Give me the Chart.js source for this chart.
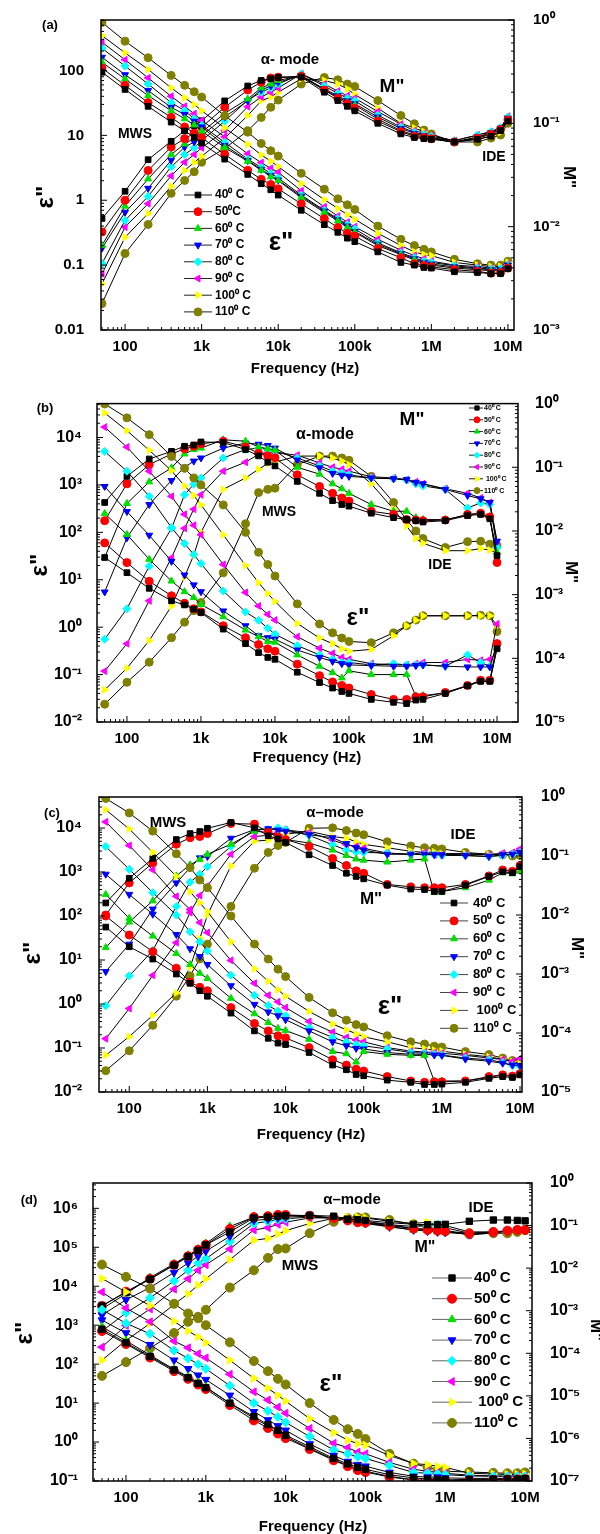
<!DOCTYPE html>
<html><head><meta charset="utf-8">
<script src="https://cdn.jsdelivr.net/npm/chart.js@4.4.1/dist/chart.umd.min.js"></script>
<style>
html,body{margin:0;padding:0;background:#fff;}
body{width:600px;height:1534px;position:relative;overflow:hidden;}
canvas{position:absolute;left:0;}
</style></head><body>
<canvas id="ca" width="600" height="385" style="top:0px"></canvas>
<canvas id="cb" width="600" height="385" style="top:385px"></canvas>
<canvas id="cc" width="600" height="380" style="top:770px"></canvas>
<canvas id="cd" width="600" height="384" style="top:1150px"></canvas>
<script>
// ---------------- data ----------------
const FREQ = [50,100,200,400,600,800,1e3,2e3,4e3,6e3,8e3,1e4,2e4,4e4,6e4,8e4,1e5,2e5,4e5,6e5,8e5,1e6,2e6,4e6,6e6,8e6,1e7];
const TEMPS = ['40\u2070 C','50\u2070C','60\u2070 C','70\u2070 C','80\u2070 C','90\u2070 C','100\u2070 C','110\u2070 C'];
const TEMPS_CD = ['40\u2070 C','50\u2070 C','60\u2070 C','70\u2070 C','80\u2070 C','90\u2070 C',' 100\u2070 C','110\u2070 C'];

const X_TICKS = [1e2,1e3,1e4,1e5,1e6,1e7];
const X_LABELS = ['100','1k','10k','100k','1M','10M'];
const A_Y_TICKS = [0.01,0.1,1,10,100];
const A_Y_LABELS = ['0.01','0.1','1','10','100'];
const A_Y1_TICKS = [1e-3,1e-2,1e-1,1];
const A_Y1_LABELS = ['10\u207B\u00B3','10\u207B\u00B2','10\u207B\u00B9','10\u2070'];
const BC_Y_TICKS = [1e-2,1e-1,1,10,100,1e3,1e4];
const BC_Y_LABELS = ['10\u207B\u00B2','10\u207B\u00B9','10\u2070','10\u00B9','10\u00B2','10\u00B3','10\u2074'];
const BC_Y1_TICKS = [1e-5,1e-4,1e-3,1e-2,1e-1,1];
const BC_Y1_LABELS = ['10\u207B\u2075','10\u207B\u2074','10\u207B\u00B3','10\u207B\u00B2','10\u207B\u00B9','10\u2070'];
const D_Y_TICKS = [1e-1,1,10,100,1e3,1e4,1e5,1e6];
const D_Y_LABELS = ['10\u207B\u00B9','10\u2070','10\u00B9','10\u00B2','10\u00B3','10\u2074','10\u2075','10\u2076'];
const D_Y1_TICKS = [1e-7,1e-6,1e-5,1e-4,1e-3,1e-2,1e-1,1];
const D_Y1_LABELS = ['10\u207B\u2077','10\u207B\u2076','10\u207B\u2075','10\u207B\u2074','10\u207B\u00B3','10\u207B\u00B2','10\u207B\u00B9','10\u2070'];

// panel (a): rows = 40,50,60,70,80,90,100,110 C
const A_EPS = [
 [94,51,28,16,11.7,9.3,7.6,4.3,2.5,1.8,1.45,1.2,0.7,0.42,0.32,0.26,0.23,0.16,0.11,0.1,0.092,0.09,0.079,0.077,0.074,0.074,0.088],
 [109,59,32,19,13.5,10.8,9.2,5.1,2.9,2.1,1.75,1.5,0.88,0.52,0.38,0.31,0.28,0.18,0.13,0.105,0.098,0.094,0.085,0.08,0.075,0.076,0.09],
 [134,74,41,24,18,14.5,11.7,6.5,4.0,2.9,2.3,2.0,1.1,0.65,0.48,0.38,0.32,0.2,0.145,0.12,0.105,0.1,0.09,0.085,0.082,0.082,0.095],
 [160,86,49,27,21,16.5,13.5,7.0,4.1,3.0,2.4,2.05,1.15,0.68,0.5,0.4,0.33,0.21,0.15,0.125,0.11,0.104,0.094,0.088,0.085,0.085,0.1],
 [220,117,62,32,24,18,14.3,7.8,4.3,3.2,2.6,2.2,1.2,0.7,0.52,0.42,0.36,0.22,0.155,0.13,0.115,0.11,0.098,0.09,0.088,0.088,0.1],
 [273,146,77,40,28,21.5,17,9.5,5.2,3.8,3.1,2.7,1.4,0.79,0.57,0.46,0.39,0.25,0.17,0.14,0.125,0.115,0.1,0.095,0.09,0.09,0.105],
 [345,187,104,54,38,30,24,13,7.3,5.0,4.0,3.3,1.8,1.02,0.75,0.6,0.51,0.31,0.2,0.16,0.145,0.14,0.11,0.1,0.095,0.095,0.11],
 [550,283,157,84,59,47,39,20,11.2,7.5,5.8,4.8,2.6,1.48,1.05,0.85,0.72,0.4,0.25,0.2,0.175,0.16,0.123,0.105,0.1,0.1,0.115]
];
const A_M = [
 [0.012,0.022,0.0445,0.067,0.085,0.095,0.106,0.165,0.23,0.26,0.27,0.278,0.28,0.2,0.166,0.146,0.132,0.1,0.079,0.073,0.071,0.07,0.066,0.07,0.075,0.085,0.105],
 [0.0089,0.018,0.035,0.059,0.071,0.08,0.092,0.143,0.21,0.25,0.275,0.28,0.285,0.21,0.175,0.155,0.14,0.105,0.083,0.075,0.073,0.071,0.066,0.072,0.078,0.087,0.108],
 [0.0066,0.0158,0.029,0.05,0.063,0.072,0.082,0.125,0.172,0.22,0.24,0.26,0.29,0.21,0.18,0.16,0.15,0.11,0.085,0.077,0.074,0.072,0.065,0.073,0.08,0.088,0.11],
 [0.0062,0.0138,0.0235,0.044,0.059,0.066,0.076,0.115,0.165,0.21,0.23,0.25,0.29,0.215,0.185,0.165,0.155,0.115,0.089,0.08,0.076,0.073,0.066,0.074,0.081,0.09,0.112],
 [0.0044,0.0115,0.0196,0.038,0.05,0.058,0.068,0.105,0.168,0.2,0.22,0.24,0.3,0.23,0.195,0.175,0.165,0.12,0.092,0.082,0.078,0.075,0.068,0.077,0.083,0.091,0.115],
 [0.0035,0.0099,0.0167,0.031,0.042,0.05,0.058,0.085,0.145,0.18,0.2,0.22,0.3,0.24,0.205,0.185,0.175,0.13,0.098,0.085,0.08,0.076,0.068,0.077,0.083,0.09,0.117],
 [0.0028,0.0079,0.0134,0.0246,0.035,0.042,0.048,0.072,0.119,0.165,0.18,0.2,0.27,0.26,0.24,0.215,0.19,0.14,0.1,0.09,0.083,0.073,0.067,0.07,0.075,0.082,0.105],
 [0.0018,0.0055,0.0105,0.021,0.028,0.034,0.042,0.057,0.085,0.114,0.143,0.168,0.24,0.278,0.264,0.24,0.227,0.166,0.119,0.099,0.086,0.079,0.066,0.066,0.072,0.077,0.1]
];
// panel (b)
const B_EPS = [
 [29.5,14.1,6.6,3.6,2.95,2.4,2.04,0.91,0.45,0.29,0.23,0.21,0.112,0.068,0.052,0.044,0.04,0.03,0.026,0.0245,0.029,0.03,0.04,0.058,0.072,0.072,0.35],
 [60,23,9.3,4.6,3.2,2.45,2.1,1.07,0.6,0.43,0.35,0.31,0.166,0.095,0.07,0.059,0.052,0.038,0.03,0.03,0.034,0.034,0.042,0.059,0.076,0.076,0.45],
 [250,90,27,9.4,5.6,4.2,3.0,1.66,0.87,0.63,0.5,0.48,0.26,0.15,0.11,0.085,0.12,0.1,0.1,0.1,0.035,0.036,0.041,0.058,0.072,0.072,0.37],
 [930,275,87,24.5,12.6,7.8,5.6,2.2,1.07,0.66,0.6,0.56,0.33,0.23,0.19,0.17,0.16,0.155,0.15,0.15,0.155,0.16,0.15,0.145,0.145,0.145,0.45],
 [5100,1950,575,126,58,34,22,5.8,2.1,1.4,0.95,0.71,0.41,0.26,0.21,0.18,0.18,0.16,0.17,0.16,0.16,0.16,0.15,0.26,0.18,0.15,0.43],
 [16600,6300,1950,575,240,141,89,21,5.4,2.8,1.86,1.41,0.63,0.36,0.28,0.23,0.21,0.17,0.16,0.16,0.17,0.18,0.18,0.21,0.2,0.21,1.17],
 [33000,14000,5400,2000,955,600,380,89,20,8.7,5.1,3.5,1.2,0.59,0.45,0.35,0.31,0.34,0.66,1.07,1.41,1.74,1.74,1.74,1.74,1.74,1.07],
 [51000,26000,11500,4000,2240,1410,1000,380,100,38,21,12,3.1,1.17,0.76,0.59,0.5,0.47,0.76,1.07,1.41,1.74,1.74,1.74,1.78,1.74,0.81]
];
const B_M = [
 [0.028,0.072,0.135,0.178,0.214,0.224,0.25,0.245,0.19,0.151,0.12,0.105,0.06,0.039,0.03,0.026,0.0245,0.019,0.0162,0.0151,0.0145,0.0138,0.0145,0.0174,0.0182,0.0155,0.0041],
 [0.0145,0.055,0.11,0.162,0.195,0.214,0.234,0.257,0.209,0.166,0.151,0.141,0.076,0.05,0.039,0.033,0.0295,0.0204,0.0182,0.0151,0.0148,0.0145,0.0148,0.0182,0.019,0.0166,0.0032],
 [0.0038,0.027,0.059,0.098,0.162,0.19,0.2,0.27,0.257,0.209,0.195,0.186,0.1,0.078,0.055,0.046,0.039,0.026,0.0204,0.0204,0.0162,0.0151,0.0151,0.0178,0.019,0.0158,0.0046],
 [0.0011,0.0078,0.026,0.062,0.1,0.125,0.14,0.2,0.24,0.23,0.22,0.2,0.13,0.098,0.08,0.075,0.072,0.068,0.066,0.064,0.058,0.055,0.045,0.036,0.032,0.028,0.0069],
 [0.0002,0.0006,0.0028,0.011,0.037,0.054,0.068,0.14,0.19,0.2,0.19,0.18,0.14,0.105,0.087,0.081,0.076,0.068,0.066,0.063,0.055,0.051,0.045,0.023,0.0275,0.026,0.0055],
 [0.000063,0.00017,0.0008,0.0038,0.011,0.022,0.037,0.087,0.12,0.16,0.17,0.17,0.155,0.117,0.1,0.093,0.087,0.071,0.068,0.064,0.059,0.055,0.046,0.039,0.033,0.028,0.0066],
 [0.000032,0.00007,0.00019,0.00066,0.0019,0.0042,0.0095,0.045,0.068,0.093,0.115,0.12,0.15,0.15,0.14,0.125,0.11,0.055,0.022,0.012,0.0076,0.0064,0.0049,0.0049,0.0053,0.005,0.0045],
 [0.000019,0.000042,0.000087,0.00021,0.00037,0.00056,0.00075,0.0022,0.013,0.04,0.045,0.047,0.11,0.15,0.15,0.14,0.129,0.072,0.028,0.015,0.01,0.0076,0.0055,0.0068,0.0069,0.0062,0.0059]
];
// panel (c)
const C_EPS = [
 [56,20,10.5,4.8,2.95,2.0,1.5,0.62,0.245,0.166,0.129,0.12,0.079,0.041,0.032,0.025,0.0234,0.0186,0.0166,0.0148,0.0148,0.0151,0.0166,0.0204,0.0224,0.0214,0.0245],
 [100,37,15.5,6.5,3.16,2.4,2.0,0.83,0.36,0.245,0.19,0.17,0.102,0.054,0.041,0.033,0.03,0.0224,0.0178,0.0166,0.017,0.017,0.0178,0.0224,0.0245,0.023,0.026],
 [310,89,35,14,7.9,5.0,3.8,1.35,0.6,0.38,0.28,0.25,0.158,0.083,0.074,0.048,0.083,0.072,0.068,0.068,0.0178,0.0178,0.0178,0.0214,0.0245,0.023,0.025],
 [890,310,110,38,18,12,7.9,2.6,0.98,0.66,0.54,0.44,0.245,0.138,0.112,0.098,0.095,0.079,0.072,0.072,0.069,0.068,0.056,0.05,0.045,0.041,0.04],
 [3800,1150,340,105,44,26,16,4.5,1.58,0.93,0.69,0.54,0.29,0.174,0.138,0.12,0.112,0.095,0.079,0.076,0.072,0.069,0.059,0.054,0.047,0.04,0.038],
 [13800,4000,1120,280,141,71,42,9.8,2.95,1.58,1.12,0.83,0.4,0.23,0.174,0.151,0.138,0.102,0.085,0.081,0.079,0.076,0.068,0.059,0.055,0.05,0.058],
 [26000,9500,2800,800,355,200,126,26,6.3,3.3,2.1,1.5,0.68,0.35,0.26,0.21,0.18,0.138,0.102,0.095,0.089,0.085,0.072,0.063,0.055,0.049,0.045],
 [47000,22000,8500,2600,1260,660,440,100,23,10.5,6.2,4.2,1.41,0.63,0.43,0.34,0.3,0.19,0.138,0.123,0.11,0.105,0.083,0.071,0.059,0.052,0.05]
];
const C_M = [
 [0.016,0.042,0.091,0.19,0.24,0.26,0.295,0.37,0.3,0.22,0.195,0.17,0.105,0.069,0.051,0.045,0.041,0.032,0.0275,0.027,0.025,0.025,0.032,0.045,0.054,0.052,0.066],
 [0.01,0.035,0.076,0.158,0.204,0.214,0.24,0.355,0.347,0.251,0.209,0.19,0.145,0.091,0.069,0.056,0.051,0.033,0.03,0.029,0.029,0.029,0.033,0.046,0.058,0.055,0.069],
 [0.0028,0.0076,0.0174,0.046,0.071,0.087,0.107,0.158,0.263,0.251,0.219,0.19,0.166,0.126,0.102,0.089,0.085,0.079,0.085,0.089,0.024,0.025,0.029,0.039,0.052,0.05,0.055],
 [0.0011,0.0032,0.0126,0.035,0.063,0.093,0.098,0.2,0.28,0.29,0.275,0.263,0.23,0.204,0.162,0.138,0.126,0.107,0.107,0.107,0.105,0.105,0.102,0.098,0.105,0.107,0.115],
 [0.00029,0.00093,0.0025,0.014,0.036,0.049,0.066,0.145,0.28,0.28,0.3,0.28,0.224,0.155,0.126,0.117,0.115,0.112,0.107,0.105,0.105,0.102,0.102,0.098,0.102,0.107,0.115],
 [0.00008,0.00026,0.00095,0.0034,0.011,0.0214,0.031,0.107,0.214,0.224,0.251,0.275,0.251,0.186,0.155,0.145,0.135,0.112,0.107,0.115,0.105,0.105,0.107,0.105,0.112,0.115,0.132],
 [0.000042,0.000087,0.0002,0.00048,0.0013,0.004,0.01,0.068,0.178,0.186,0.219,0.234,0.263,0.214,0.2,0.174,0.158,0.138,0.12,0.115,0.117,0.11,0.11,0.107,0.107,0.105,0.11],
 [0.000023,0.00005,0.000135,0.00042,0.00093,0.0018,0.0032,0.014,0.062,0.115,0.151,0.17,0.295,0.3,0.27,0.245,0.229,0.174,0.148,0.138,0.135,0.132,0.115,0.107,0.105,0.1,0.102]
];
// panel (d)
const D_EPS = [
 [790,355,158,71,45,32,25,10,4.5,2.8,2.0,1.5,0.76,0.38,0.275,0.224,0.2,0.145,0.12,0.112,0.11,0.107,0.11,0.112,0.112,0.112,0.115],
 [710,330,148,66,42,30,23,8.9,3.6,2.3,1.66,1.26,0.66,0.34,0.24,0.19,0.17,0.126,0.107,0.102,0.102,0.102,0.105,0.107,0.11,0.11,0.112],
 [910,400,170,74,48,34,26,9.8,4.1,2.6,1.9,1.38,0.69,0.355,0.25,0.2,0.178,0.132,0.107,0.102,0.102,0.101,0.105,0.107,0.11,0.11,0.112],
 [1350,630,316,126,76,52,40,15.8,6.0,3.7,2.6,2.0,0.89,0.45,0.316,0.263,0.24,0.166,0.132,0.126,0.126,0.12,0.117,0.117,0.117,0.117,0.117],
 [2500,1120,600,224,141,100,76,28,10,6.3,4.4,3.2,1.38,0.63,0.5,0.42,0.38,0.25,0.166,0.158,0.151,0.145,0.135,0.132,0.132,0.132,0.132],
 [7100,2750,1230,390,263,186,145,55,19.5,12,7.9,5.5,2.24,0.93,0.72,0.55,0.5,0.3,0.2,0.178,0.166,0.158,0.141,0.135,0.135,0.138,0.135],
 [15800,7100,3160,1260,710,500,355,126,43,24,15.8,11.2,4.0,1.74,1.12,0.91,0.83,0.45,0.28,0.263,0.24,0.224,0.158,0.151,0.148,0.148,0.151],
 [36000,17400,8700,3550,2000,1510,1000,363,120,66,42,30,10,3.7,2.14,1.62,1.2,0.5,0.28,0.224,0.19,0.178,0.17,0.162,0.158,0.158,0.166]
];
const D_M = [
 [0.0013,0.0027,0.0055,0.0117,0.0186,0.026,0.035,0.071,0.151,0.158,0.166,0.17,0.174,0.166,0.141,0.138,0.132,0.117,0.107,0.105,0.105,0.107,0.126,0.135,0.135,0.132,0.129],
 [0.0013,0.0028,0.0056,0.012,0.019,0.027,0.0355,0.083,0.158,0.166,0.178,0.178,0.17,0.151,0.132,0.12,0.117,0.1,0.085,0.079,0.076,0.074,0.066,0.071,0.076,0.079,0.079],
 [0.0011,0.0025,0.006,0.0126,0.02,0.028,0.038,0.095,0.158,0.166,0.174,0.174,0.166,0.148,0.132,0.12,0.115,0.095,0.079,0.076,0.072,0.071,0.063,0.069,0.074,0.078,0.079],
 [0.00079,0.0018,0.0035,0.0079,0.0132,0.019,0.025,0.056,0.132,0.141,0.151,0.158,0.166,0.151,0.132,0.12,0.112,0.093,0.079,0.074,0.071,0.069,0.063,0.069,0.074,0.078,0.079],
 [0.00033,0.00089,0.002,0.005,0.0089,0.0132,0.0166,0.042,0.112,0.126,0.138,0.145,0.158,0.151,0.138,0.126,0.12,0.105,0.095,0.1,0.107,0.089,0.066,0.069,0.074,0.078,0.079],
 [0.00014,0.00045,0.0011,0.0032,0.0056,0.0089,0.012,0.028,0.079,0.089,0.107,0.12,0.151,0.151,0.141,0.132,0.126,0.105,0.085,0.083,0.079,0.076,0.06,0.068,0.074,0.079,0.079],
 [0.000069,0.0002,0.0005,0.0014,0.0025,0.004,0.0056,0.0158,0.045,0.05,0.063,0.076,0.112,0.148,0.158,0.158,0.151,0.126,0.112,0.12,0.107,0.1,0.071,0.071,0.074,0.079,0.079],
 [0.0000295,0.000062,0.000132,0.0003,0.00055,0.00072,0.00105,0.0035,0.0089,0.0174,0.028,0.029,0.066,0.123,0.148,0.155,0.155,0.135,0.107,0.093,0.078,0.074,0.062,0.066,0.066,0.071,0.078]
];

// ---------------- styles ----------------
const COLORS = ['#000000','#ff0000','#00e000','#0000ff','#00ffff','#ff00ff','#ffff00','#808000'];
const STYLES = ['rect','circle','triangle','triangle','rectRot','triangle','triangle','circle'];
const ROTS = [0,0,0,180,0,270,90,0];
const FONT = '"Liberation Sans", Arial, Helvetica, sans-serif';

const DECO = {
  ca: {top:0, texts:[
    {s:'(a)', x:50, y:25, size:13},
    {s:'\u03B5"', x:46, y:197, size:24, rot:-90},
    {s:'M"', x:569, y:177, size:17, rot:90},
    {s:'Frequency (Hz)', x:305, y:369, size:15},
    {s:'\u03B1- mode', x:290, y:60, size:15},
    {s:'M"', x:392, y:87, size:19},
    {s:'MWS', x:135, y:134, size:14},
    {s:'IDE', x:494, y:157, size:14},
    {s:'\u03B5"', x:281, y:243, size:26}
  ], legend:{x1:184, x2:212, xm:198, xt:215, y0:195, dy:16.7, size:12, r:4, color:'#222', labels:TEMPS}},
  cb: {top:385, texts:[
    {s:'(b)', x:45, y:408, size:13},
    {s:'\u03B5"', x:40, y:565, size:24, rot:-90},
    {s:'M"', x:571, y:572, size:17, rot:90},
    {s:'Frequency (Hz)', x:307, y:758, size:15},
    {s:'\u03B1-mode', x:325, y:435, size:16},
    {s:'M"', x:412, y:420, size:19},
    {s:'MWS', x:279, y:512, size:14},
    {s:'IDE', x:440, y:565, size:14},
    {s:'\u03B5"', x:358, y:618, size:24}
  ], legend:{x1:469, x2:483, xm:477, xt:484, y0:408, dy:11.8, size:7, r:3, color:'#222', labels:TEMPS_CD}},
  cc: {top:770, texts:[
    {s:'(c)', x:52, y:813, size:13},
    {s:'\u03B5"', x:33, y:953, size:24, rot:-90},
    {s:'M"', x:577, y:948, size:17, rot:90},
    {s:'Frequency (Hz)', x:311, y:1135, size:15},
    {s:'\u03B1\u2013mode', x:335, y:813, size:15},
    {s:'MWS', x:168, y:823, size:15},
    {s:'IDE', x:463, y:835, size:15},
    {s:'M"', x:371, y:899, size:17},
    {s:'\u03B5"', x:390, y:1007, size:26}
  ], legend:{x1:440, x2:468, xm:454, xt:473, y0:903, dy:17.9, size:13, r:4, color:'#444', labels:TEMPS_CD}},
  cd: {top:1150, texts:[
    {s:'(d)', x:29, y:1200, size:13},
    {s:'\u03B5"', x:25, y:1333, size:24, rot:-90},
    {s:'M"', x:596, y:1330, size:17, rot:90},
    {s:'Frequency (Hz)', x:313, y:1527, size:15},
    {s:'\u03B1\u2013mode', x:352, y:1200, size:15},
    {s:'IDE', x:481, y:1208, size:15},
    {s:'M"', x:425, y:1248, size:16},
    {s:'MWS', x:300, y:1266, size:15},
    {s:'\u03B5"', x:331, y:1384, size:24}
  ], legend:{x1:432, x2:472, xm:452, xt:474, y0:1278, dy:20.7, size:15, r:4.5, color:'#666', labels:TEMPS_CD}}
};

function drawMarker(ctx, i, r, x, y) {
  ctx.fillStyle = COLORS[i]; ctx.strokeStyle = COLORS[i]; ctx.lineWidth = 1;
  if (Chart.helpers && Chart.helpers.drawPoint) {
    Chart.helpers.drawPoint(ctx, {pointStyle: STYLES[i], rotation: ROTS[i], radius: r, borderWidth: 1}, x, y);
  } else {
    ctx.beginPath(); ctx.arc(x, y, r, 0, Math.PI * 2); ctx.fill();
  }
}

function logTicks(ctx, scale, side, ca) {
  const lo = Math.floor(Math.log10(scale.min)), hi = Math.ceil(Math.log10(scale.max));
  for (let d = lo; d <= hi; d++) {
    for (let m = 1; m <= 9; m++) {
      const v = m * Math.pow(10, d);
      if (v < scale.min * 0.9999 || v > scale.max * 1.0001) continue;
      const p = scale.getPixelForValue(v);
      const len = m === 1 ? 6 : 3;
      ctx.beginPath();
      if (side === 'bottom') { ctx.moveTo(p, ca.bottom); ctx.lineTo(p, ca.bottom - len); }
      else if (side === 'left') { ctx.moveTo(ca.left, p); ctx.lineTo(ca.left + len, p); }
      else { ctx.moveTo(ca.right, p); ctx.lineTo(ca.right - len, p); }
      ctx.stroke();
    }
  }
}

const decoPlugin = {
  id: 'deco',
  afterDraw(chart) {
    const cfg = DECO[chart.canvas.id];
    const ctx = chart.ctx, ca = chart.chartArea;
    ctx.save();
    ctx.strokeStyle = '#000'; ctx.lineWidth = 1;
    logTicks(ctx, chart.scales.x, 'bottom', ca);
    logTicks(ctx, chart.scales.y, 'left', ca);
    logTicks(ctx, chart.scales.y1, 'right', ca);
    ctx.lineWidth = 1.5;
    ctx.strokeRect(ca.left, ca.top, ca.right - ca.left, ca.bottom - ca.top);
    for (const t of cfg.texts) {
      ctx.save();
      ctx.font = 'bold ' + t.size + 'px ' + FONT;
      ctx.fillStyle = '#000'; ctx.textAlign = 'center'; ctx.textBaseline = 'middle';
      ctx.translate(t.x, t.y - cfg.top);
      if (t.rot) ctx.rotate(t.rot * Math.PI / 180);
      ctx.fillText(t.s, 0, 0);
      ctx.restore();
    }
    const L = cfg.legend;
    for (let i = 0; i < 8; i++) {
      const y = L.y0 + i * L.dy - cfg.top;
      ctx.strokeStyle = L.color; ctx.lineWidth = 1;
      ctx.beginPath(); ctx.moveTo(L.x1, y); ctx.lineTo(L.x2, y); ctx.stroke();
      drawMarker(ctx, i, L.r, L.xm, y);
      ctx.fillStyle = '#000';
      ctx.font = 'bold ' + L.size + 'px ' + FONT;
      ctx.textAlign = 'left'; ctx.textBaseline = 'middle';
      ctx.fillText(L.labels[i], L.xt, y);
    }
    ctx.restore();
  }
};

function ds(vals, axis, i, r) {
  return {
    label: TEMPS[i],
    data: FREQ.map((f, k) => ({x: f, y: vals[k]})),
    yAxisID: axis,
    borderColor: '#000', borderWidth: 1,
    pointStyle: STYLES[i], pointRotation: ROTS[i], pointRadius: r,
    pointBackgroundColor: COLORS[i], pointBorderColor: COLORS[i], pointBorderWidth: 1,
    tension: 0, fill: false
  };
}

function tickFont(size) { return {family: FONT, weight: 'bold', size: size}; }

function makeChart(id, P) {
  const datasets = [];
  for (let i = 0; i < 8; i++) datasets.push(ds(P.eps[i], 'y', i, P.r));
  for (let i = 0; i < 8; i++) datasets.push(ds(P.m[i], 'y1', i, P.r));
  new Chart(document.getElementById(id), {
    type: 'line',
    data: {datasets},
    options: {
      responsive: false, animation: false, devicePixelRatio: 1,
      layout: {padding: {top: P.T, left: 0, right: 0, bottom: 0}},
      plugins: {legend: {display: false}, tooltip: {enabled: false}},
      scales: {
        x: {type: 'logarithmic', position: 'bottom', bounds: 'data', min: P.xmin, max: P.xmax,
            afterBuildTicks: s => { s.ticks = X_TICKS.map(v => ({value: v})); },
            afterFit: s => { s.height = P.xH; },
            grid: {display: false}, border: {display: false},
            ticks: {autoSkip: false, maxRotation: 0, minRotation: 0, padding: 0, color: '#000', font: tickFont(15),
                    callback: (v, i) => X_LABELS[i]}},
        y: {type: 'logarithmic', position: 'left', bounds: 'data', min: P.ymin, max: P.ymax,
            afterBuildTicks: s => { s.ticks = P.yT.map(v => ({value: v})); },
            afterFit: s => { s.width = P.L; },
            grid: {display: false}, border: {display: false},
            ticks: {autoSkip: false, padding: P.yPad, color: '#000', font: tickFont(P.yFont),
                    callback: (v, i) => P.yL[i]}},
        y1: {type: 'logarithmic', position: 'right', bounds: 'data', min: P.y1min, max: P.y1max,
            afterBuildTicks: s => { s.ticks = P.y1T.map(v => ({value: v})); },
            afterFit: s => { s.width = 600 - P.R; },
            grid: {display: false}, border: {display: false},
            ticks: {autoSkip: false, padding: P.y1Pad, color: '#000', font: tickFont(P.yFont),
                    callback: (v, i) => P.y1L[i]}}
      }
    },
    plugins: [decoPlugin]
  });
}

makeChart('ca', {eps: A_EPS, m: A_M, r: 4, T: 19, xH: 55, L: 101, R: 514,
  xmin: 48.5, xmax: 1.2e7, ymin: 0.01, ymax: 600, y1min: 1e-3, y1max: 1,
  yT: A_Y_TICKS, yL: A_Y_LABELS, y1T: A_Y1_TICKS, y1L: A_Y1_LABELS, yPad: 9, y1Pad: 11, yFont: 15});
makeChart('cb', {eps: B_EPS, m: B_M, r: 4, T: 17, xH: 48, L: 97, R: 518,
  xmin: 39.4, xmax: 1.92e7, ymin: 0.01, ymax: 5.2e4, y1min: 1e-5, y1max: 1,
  yT: BC_Y_TICKS, yL: BC_Y_LABELS, y1T: BC_Y1_TICKS, y1L: BC_Y1_LABELS, yPad: 7, y1Pad: 9, yFont: 16});
makeChart('cc', {eps: C_EPS, m: C_M, r: 4, T: 27, xH: 58, L: 99, R: 522,
  xmin: 41, xmax: 1.06e7, ymin: 0.01, ymax: 5.07e4, y1min: 1e-5, y1max: 1,
  yT: BC_Y_TICKS, yL: BC_Y_LABELS, y1T: BC_Y1_TICKS, y1L: BC_Y1_LABELS, yPad: 9, y1Pad: 11, yFont: 16});
makeChart('cd', {eps: D_EPS, m: D_M, r: 4.5, T: 33, xH: 53, L: 93, R: 532,
  xmin: 38.6, xmax: 1.22e7, ymin: 0.1, ymax: 4.47e6, y1min: 1e-7, y1max: 1,
  yT: D_Y_TICKS, yL: D_Y_LABELS, y1T: D_Y1_TICKS, y1L: D_Y1_LABELS, yPad: 7, y1Pad: 10, yFont: 16});
</script>
</body></html>
